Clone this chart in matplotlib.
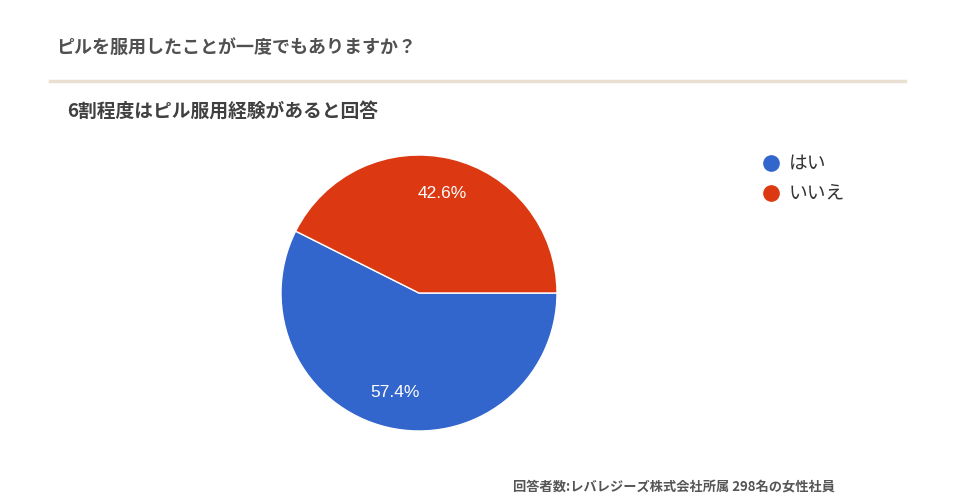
import matplotlib
matplotlib.use("Agg")
import matplotlib.pyplot as plt
from matplotlib.lines import Line2D

plt.rcParams['font.family'] = ['Noto Sans CJK JP', 'DejaVu Sans']

# data
labels = ['はい', 'いいえ']
values = [57.4, 42.6]
colors = ['#3366cc', '#dc3912']

title = 'ピルを服用したことが一度でもありますか？'
subtitle = '6割程度はピル服用経験があると回答'
note = '回答者数:レバレジーズ株式会社所属 298名の女性社員'

W, H = 960, 504
fig = plt.figure(figsize=(W / 100, H / 100), dpi=100)

def px(x, y):
    return x / W, 1 - y / H

fig.text(*px(56, 47), title, fontsize=13, fontweight='bold', color='#505050', va='center')
fig.add_artist(Line2D([50 / W, 905 / W], [1 - 81 / H] * 2, color='#e9dfd2', lw=2.5))
fig.text(*px(67, 111), subtitle, fontsize=13.5, fontweight='bold', color='#404040', va='center')
fig.text(*px(513, 487), note, fontsize=9.5, fontweight='bold', color='#555555', va='center')

# pie
cx, cy, r = 419, 293, 138
ax = fig.add_axes([(cx - r) / W, (H - cy - r) / H, 2 * r / W, 2 * r / H])
wedges, texts, autotexts = ax.pie(values, colors=colors, startangle=0, counterclock=False,
                                  autopct='%.1f%%', pctdistance=0.74,
                                  wedgeprops=dict(edgecolor='white', linewidth=1),
                                  textprops=dict(color='white', fontsize=12.5,
                                                 family='Liberation Sans'))
ax.set_xlim(-1, 1)
ax.set_ylim(-1, 1)
ax.axis('off')

# legend
for i, (lab, c) in enumerate(zip(labels, colors)):
    y = 163 + 30 * i
    fig.add_artist(Line2D([771 / W], [1 - y / H], marker='o', markersize=11,
                          color=c, linestyle='none'))
    fig.text(*px(789, y), lab, fontsize=13.5, color='#333333', va='center')

fig.savefig('out.png', dpi=100)
